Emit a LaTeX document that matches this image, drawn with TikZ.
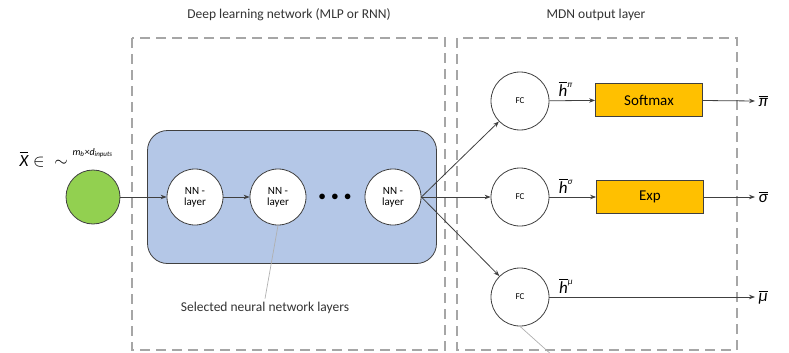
\documentclass[tikz,border=0pt]{standalone}
\usepackage{amsmath}
\usepackage{fontspec}
\setmainfont{Carlito}
\usetikzlibrary{arrows.meta}

\definecolor{darkline}{HTML}{404040}
\definecolor{framegray}{HTML}{A6A6A6}
\definecolor{notegray}{HTML}{B0B0B0}
\definecolor{inpgreen}{HTML}{92D050}
\definecolor{boxblue}{HTML}{B4C7E7}
\definecolor{actorange}{HTML}{FFC000}

\tikzset{
  nn/.style={circle, draw=darkline, fill=white, minimum size=56pt, inner sep=0pt, align=center, line width=0.8pt, font=\fontsize{11}{11}\selectfont},
  fc/.style={circle, draw=darkline, fill=white, minimum size=58pt, inner sep=0pt, line width=0.8pt, font=\fontsize{9}{9}\selectfont},
  act/.style={draw=darkline, fill=actorange, minimum width=107pt, minimum height=33pt, line width=0.8pt, font=\fontsize{15}{16}\selectfont},
  conn/.style={-{Stealth[length=6pt,width=4.5pt]}, draw=darkline, line width=0.8pt},
  frame/.style={draw=framegray, line width=1.3pt, dash pattern=on 10pt off 6pt},
  note/.style={draw=notegray, line width=0.7pt},
  title/.style={font=\fontsize{13.5}{15}\selectfont, text=darkline!80!black},
  sym/.style={font=\fontsize{17}{18}\selectfont\itshape},
}

\begin{document}
\begin{tikzpicture}[x=1pt, y=-1pt]
\useasboundingbox (0,0) rectangle (789,353);

% frames and titles
\draw [frame] (132,38) rectangle (445,350);
\draw [frame] (457,38) rectangle (737,350);
\node [title] (dlnTitle) at (289,15) {Deep learning network (MLP or RNN)};
\node [title] (mdnTitle) at (596,15) {MDN output layer};

% input
\node [circle, draw=darkline, fill=inpgreen, minimum size=54pt, line width=0.8pt] (inp) at (93,197) {};
\node [anchor=base west, sym] (xlabel) at (16,166) {$\overline{\text{\itshape X}}\in\;{\sim}\;$\raisebox{1.3ex}{\fontsize{10}{10}\selectfont\itshape m\textsubscript{b}×d\textsubscript{inputs}}};

% network block
\node [draw=darkline, fill=boxblue, rounded corners=20pt, minimum width=289pt, minimum height=133pt, line width=0.8pt] (net) at (292,197) {};
\node [nn] (nn1) at (195,197) {NN -\\layer};
\node [nn] (nn2) at (278,197) {NN -\\layer};
\node [font=\fontsize{14}{14}\selectfont] (dots) at (335,197) {$\bullet\,\bullet\,\bullet$};
\node [nn] (nn3) at (393,197) {NN -\\layer};
\node [title] (sel) at (265,308) {Selected neural network layers};

% MDN head
\node [fc] (fc1) at (520,101) {FC};
\node [fc] (fc2) at (520,197) {FC};
\node [fc] (fc3) at (520,297) {FC};
\node [act] (soft) at (649,100) {Softmax};
\node [act] (exp) at (650,197) {Exp};
\coordinate (outPi) at (755,101);
\coordinate (outSigma) at (755,197);
\coordinate (outMu) at (755,297);
\coordinate (fcnote) at (553,356);

\draw [conn] (inp) -- (nn1);
\draw [conn] (nn1) -- (nn2);
\draw [conn] (nn3.east) -- (fc1);
\draw [conn] (nn3.east) -- (fc2);
\draw [conn] (nn3.east) -- (fc3);
\draw [conn] (fc1) -- (soft) node[above, pos=.35, sym]{$\overline{\text{\itshape h}}$\raisebox{1.1ex}{\fontsize{9}{9}\selectfont π}};
\draw [conn] (fc2) -- (exp) node[above, pos=.35, sym]{$\overline{\text{\itshape h}}$\raisebox{1.1ex}{\fontsize{9}{9}\selectfont σ}};
\draw [conn] (fc3) -- (outMu) node[above, pos=.08, sym]{$\overline{\text{\itshape h}}$\raisebox{1.1ex}{\fontsize{9}{9}\selectfont μ}};
\draw [conn] (soft) -- (outPi) node[right, sym]{$\overline{\text{\itshape π}}$};
\draw [conn] (exp) -- (outSigma) node[right, sym]{$\overline{\text{\itshape σ}}$};
\node [right, sym] (mulabel) at (outMu) {$\overline{\text{\itshape μ}}$};

% annotations
\draw [note] (nn2.south) -- (sel.north);
\draw [note] (fc3.south) -- (fcnote);
\end{tikzpicture}
\end{document}
